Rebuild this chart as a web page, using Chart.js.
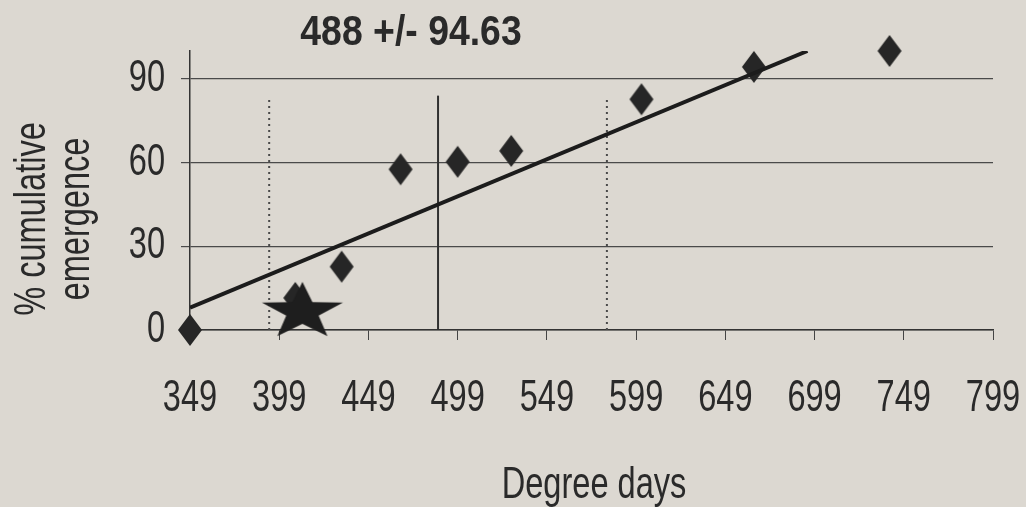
<!DOCTYPE html>
<html>
<head>
<meta charset="utf-8">
<script src="https://cdn.jsdelivr.net/npm/chart.js@4.4.1/dist/chart.umd.min.js"></script>
<style>
  html, body { margin: 0; padding: 0; background: #dcd8d1; }
  #wrap { width: 1026px; height: 507px; position: relative; }
</style>
</head>
<body>
<div id="wrap"><canvas id="c"></canvas></div>
<script>
// Cumulative emergence (%) plotted against accumulated degree days
const degreeDays   = [349, 408, 434, 467, 499, 529, 602, 665, 741];
const emergencePct = [0, 11.5, 22.7, 57.6, 60.3, 64.2, 82.7, 94.3, 100];

// predicted emergence point (star)
const predictedDD  = [412];
const predictedPct = [6.5];

// fitted straight line, end points
const trendDD  = [349, 695];
const trendPct = [8, 100];

// mean degree days to emergence and its standard deviation
const meanDD = 488;
const sdDD = 94.63;
const meanLineTop = 84;
const sdLineTop = 83;

const xTickValues = [349, 399, 449, 499, 549, 599, 649, 699, 749, 799];
const yTickValues = [0, 30, 60, 90];

const INK = '#262626';
const TEXT = '#2a2a2a';
const FONT = "'Liberation Sans', Arial, sans-serif";
const NARROW = 0.74;      // horizontal squeeze of the condensed lettering
const TITLE_NARROW = 0.89;

// linear scale whose tick labels are set in a condensed face
class NarrowLinearScale extends Chart.LinearScale {
  drawLabels(chartArea) {
    if (!this.options.ticks.display) return;
    const ctx = this.ctx;
    for (const item of this.getLabelItems(chartArea)) {
      const o = item.options;
      ctx.save();
      ctx.translate(o.translation[0], o.translation[1]);
      ctx.scale(NARROW, 1);
      ctx.font = item.font.string;
      ctx.fillStyle = o.color;
      ctx.textAlign = o.textAlign;
      ctx.textBaseline = o.textBaseline;
      ctx.fillText(String(item.label), 0, item.textOffset);
      ctx.restore();
    }
  }
}
NarrowLinearScale.id = 'narrowLinear';
NarrowLinearScale.defaults = Chart.LinearScale.defaults;
Chart.register(NarrowLinearScale);

function diamondMarker(w, h, color) {
  const c = document.createElement('canvas');
  c.width = w; c.height = h;
  const g = c.getContext('2d');
  g.fillStyle = color;
  g.beginPath();
  g.moveTo(w / 2, 1);
  g.lineTo(w - 1, h / 2);
  g.lineTo(w / 2, h - 1);
  g.lineTo(1, h / 2);
  g.closePath();
  g.fill();
  return c;
}

function starMarker(R, sx, color) {
  const w = Math.ceil(2 * R * sx) + 4, h = 2 * R + 4;
  const c = document.createElement('canvas');
  c.width = w; c.height = h;
  const g = c.getContext('2d');
  const cx = w / 2, cy = h / 2, r = R * 0.40;
  g.fillStyle = color;
  g.beginPath();
  for (let i = 0; i < 10; i++) {
    const a = -Math.PI / 2 + i * Math.PI / 5;
    const rad = i % 2 === 0 ? R : r;
    const px = cx + Math.cos(a) * rad * sx, py = cy + Math.sin(a) * rad;
    if (i === 0) g.moveTo(px, py); else g.lineTo(px, py);
  }
  g.closePath();
  g.fill();
  return c;
}

const diamond = diamondMarker(26, 34, INK);
const star = starMarker(30, 1.42, '#1e1e1e');

const pts = (xs, ys) => xs.map((x, i) => ({ x, y: ys[i] }));
const vline = (x, top) => [{ x, y: 0 }, { x, y: top }];

function squeezedText(ctx, text, x, y, k) {
  ctx.save();
  ctx.translate(x, y);
  ctx.scale(k, 1);
  ctx.fillText(text, 0, 0);
  ctx.restore();
}

// axis titles and heading, placed relative to the plot area
const captions = {
  id: 'captions',
  afterDraw(chart) {
    const { ctx, chartArea: a } = chart;
    ctx.save();
    ctx.fillStyle = TEXT;
    ctx.textAlign = 'center';
    ctx.textBaseline = 'alphabetic';

    ctx.font = `bold 42px ${FONT}`;
    squeezedText(ctx, `${meanDD} +/- ${sdDD}`, a.left + 221, a.top - 6, TITLE_NARROW);

    ctx.font = `44px ${FONT}`;
    squeezedText(ctx, 'Degree days', 594, 498, NARROW);

    ctx.translate(0, 219);
    ctx.rotate(-Math.PI / 2);
    squeezedText(ctx, '% cumulative', 0, 45, NARROW);
    squeezedText(ctx, 'emergence', 0, 89, NARROW);
    ctx.restore();
  }
};

new Chart(document.getElementById('c'), {
  type: 'scatter',
  data: {
    datasets: [
      { label: 'Predicted', data: pts(predictedDD, predictedPct),
        pointStyle: star, pointRadius: 30, clip: false },
      { label: 'Linear fit', data: pts(trendDD, trendPct), showLine: true,
        borderColor: '#1c1c1c', borderWidth: 4, pointRadius: 0 },
      { label: 'Mean', data: vline(meanDD, meanLineTop), showLine: true,
        borderColor: '#303030', borderWidth: 2, pointRadius: 0 },
      { label: 'Mean - SD', data: vline(meanDD - sdDD, sdLineTop), showLine: true,
        borderColor: '#4a4a4a', borderWidth: 2, borderDash: [2, 4], pointRadius: 0 },
      { label: 'Mean + SD', data: vline(meanDD + sdDD, sdLineTop), showLine: true,
        borderColor: '#4a4a4a', borderWidth: 2, borderDash: [2, 4], pointRadius: 0 },
      { label: 'Observed', data: pts(degreeDays, emergencePct),
        pointStyle: diamond, pointRadius: 13, clip: false }
    ]
  },
  options: {
    responsive: true,
    maintainAspectRatio: false,
    animation: false,
    events: [],
    layout: { padding: { top: 51, right: 33, left: 0, bottom: 0 } },
    plugins: { legend: { display: false }, tooltip: { enabled: false }, title: { display: false } },
    scales: {
      x: {
        type: 'narrowLinear', position: 'bottom', min: 349, max: 799,
        afterBuildTicks: s => { s.ticks = xTickValues.map(v => ({ value: v })); },
        afterFit: s => { s.height = 177; s.paddingLeft = 0; s.paddingRight = 0; },
        grid: { drawOnChartArea: false, drawTicks: true, tickLength: 10, color: '#444', lineWidth: 1 },
        border: { display: true, color: '#333', width: 1.5 },
        ticks: { color: TEXT, padding: 32, maxRotation: 0, autoSkip: false,
                 font: { family: FONT, size: 44 } }
      },
      y: {
        type: 'narrowLinear', position: 'left', min: 0, max: 100,
        afterBuildTicks: s => { s.ticks = yTickValues.map(v => ({ value: v })); },
        afterFit: s => { s.width = 190; s.paddingTop = 0; s.paddingBottom = 0; },
        grid: { drawTicks: true, tickLength: 9, color: '#4a4a4a', lineWidth: 1.2 },
        border: { display: true, color: '#333', width: 1.5 },
        ticks: { color: TEXT, padding: 16, font: { family: FONT, size: 44 } }
      }
    }
  },
  plugins: [captions]
});
</script>
</body>
</html>
